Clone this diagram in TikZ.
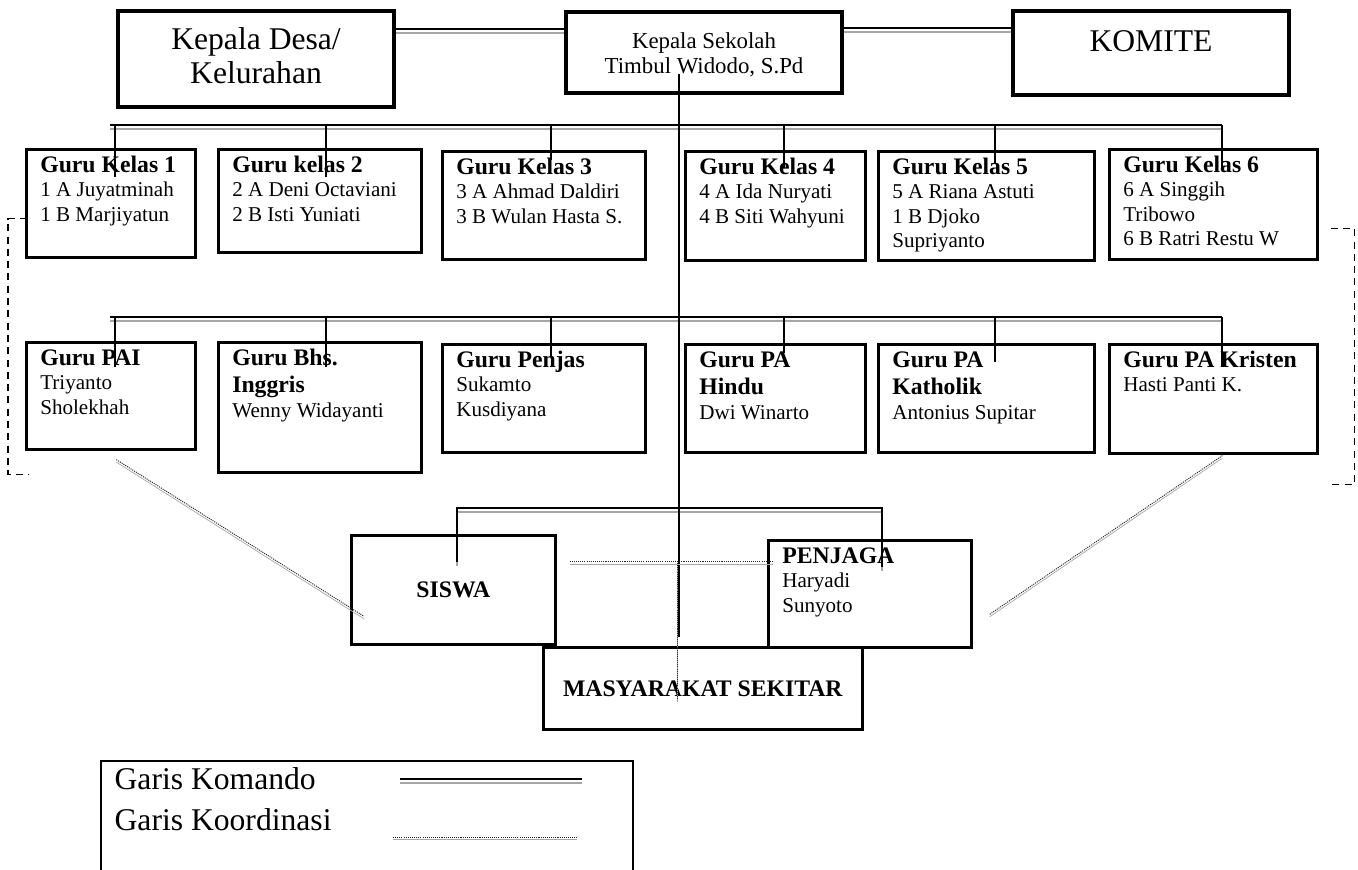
\documentclass[tikz,border=0pt]{standalone}
\usepackage{fontspec}
\setmainfont{Liberation Serif}
\usetikzlibrary{calc}

\newlength{\px}\setlength{\px}{0.02cm}
\newcommand{\judul}{\fontsize{13.5}{15.5}\selectfont\bfseries}
\newcommand{\isian}{\fontsize{12}{13.9}\selectfont}
\newcommand{\besar}{\fontsize{18}{19.3}\selectfont}
\newcommand{\sedang}{\fontsize{13}{14.7}\selectfont}
% isi kotak guru: lebar, tinggi, judul, nama
\newcommand{\guru}[4]{\begin{minipage}[t][#2\px][t]{#1\px}\vspace*{4\px}\raggedright\leftskip=14\px
{\judul\strut #3\par}{\isian #4\par}\end{minipage}}
% isi kotak atas: lebar, tinggi, jarak atas, teks
\newcommand{\tengah}[4]{\begin{minipage}[t][#2\px][t]{#1\px}\vspace*{#3\px}\centering #4\par\end{minipage}}

\begin{document}
\begin{tikzpicture}[x=0.02cm,y=-0.02cm,
kotak/.style={draw,rectangle,inner sep=0pt,anchor=north west,line width=1.5pt},
kotaktebal/.style={kotak,line width=2.3pt},
komando/.style={draw,line width=1pt,preaction={draw=black!35,line width=1.2pt,transform canvas={yshift=-2.3pt}}},
koord/.style={draw=black!85,line width=0.55pt,dash pattern=on 0.6pt off 0.6pt,preaction={draw=black!35,transform canvas={yshift=-1.4pt}}},
tegak/.style={line width=1pt},
putus/.style={line width=0.8pt,dash pattern=on 4pt off 3pt}]
\useasboundingbox (0,0) rectangle (1358,869);
\clip (0,0) rectangle (1358,869);

% pimpinan
\node[kotaktebal] (desa) at (116,9) {\tengah{276}{96}{15}{\besar\strut Kepala Desa/\\Kelurahan}};
\node[kotaktebal] (sekolah) at (564,10) {\tengah{276}{81}{18}{\sedang\strut Kepala Sekolah\\Timbul Widodo, S.Pd}};
\node[kotaktebal] (komite) at (1011,9) {\tengah{276}{84}{17}{\besar\strut KOMITE}};

% guru kelas
\node[kotak] (gk1) at (25,148) {\guru{169}{108}{Guru Kelas 1}{1 A Juyatminah\\1 B Marjiyatun}};
\node[kotak] (gk2) at (217,148) {\guru{203}{103}{Guru kelas 2}{2 A Deni Octaviani\\2 B Isti Yuniati}};
\node[kotak] (gk3) at (441,150) {\guru{203}{108}{Guru Kelas 3}{3 A Ahmad Daldiri\\3 B Wulan Hasta S.}};
\node[kotak] (gk4) at (684,150) {\guru{180}{109}{Guru Kelas 4}{4 A Ida Nuryati\\4 B Siti Wahyuni}};
\node[kotak] (gk5) at (877,150) {\guru{216}{109}{Guru Kelas 5}{5 A Riana Astuti\\1 B Djoko\\Supriyanto}};
\node[kotak] (gk6) at (1108,148) {\guru{208}{110}{Guru Kelas 6}{6 A Singgih\\Tribowo\\6 B Ratri Restu W}};

% guru mapel
\node[kotak] (pai) at (25,341) {\guru{169}{107}{Guru PAI}{Triyanto\\Sholekhah}};
\node[kotak] (bhs) at (217,341) {\guru{203}{130}{Guru Bhs.\\Inggris}{Wenny Widayanti}};
\node[kotak] (penjas) at (441,343) {\guru{203}{108}{Guru Penjas}{Sukamto\\Kusdiyana}};
\node[kotak] (hindu) at (684,343) {\guru{180}{108}{Guru PA\\Hindu}{Dwi Winarto}};
\node[kotak] (katholik) at (877,343) {\guru{216}{108}{Guru PA\\Katholik}{Antonius Supitar}};
\node[kotak] (kristen) at (1108,343) {\guru{208}{109}{Guru PA Kristen}{Hasti Panti K.}};

% bawah
\node[kotak,minimum width=204\px,minimum height=109\px,font=\judul] (siswa) at (350,534) {SISWA};
\node[kotak] (penjaga) at (767,539) {\guru{203}{107}{PENJAGA}{Haryadi\\Sunyoto}};
\node[kotak,minimum width=319\px,minimum height=82\px,font=\judul] (masyarakat) at (542,646) {MASYARAKAT SEKITAR};

% garis komando
\draw[komando] (desa.12.7) -- (desa.12.7 -| sekolah.west);
\draw[komando] (sekolah.10.9) -- (sekolah.10.9 -| komite.west);
\draw[komando] ($(gk1.north)+(-0.5,-23)$) -- ($(gk6.north)+(9,-23)$);
\draw[komando] ($(pai.north)+(-0.5,-24)$) -- ($(kristen.north)+(9,-26)$);
\draw[komando] ($(siswa.north)+(4,28)$) |- ($(penjaga.north)+(12.5,-31)$) -- ++(0,59);
\foreach \k/\dx/\dy/\p in {gk1/4.5/-23/52,gk2/6.5/-23/52,gk3/7.5/-25/35,gk4/9/-25/43,gk5/9/-25/38,gk6/9/-23/43,
  pai/4.5/-24/50,bhs/6.5/-24/50,penjas/7.5/-26/40,hindu/9/-26/36,katholik/9/-26/45,kristen/9/-26/50}
  \draw[tegak] ($(\k.north)+(\dx,\dy)$) -- ++(0,\p);
\coordinate (pusat) at ($(sekolah.center)+(-25,21.5)$);
\draw[tegak,shorten >=9\px] (pusat) -- (pusat |- masyarakat.north);

% garis koordinasi
\draw[koord] ($(siswa.east)+(13,-28)$) -- ($(penjaga.west)+(6,-32)$);
\draw[koord] ($(masyarakat.north)+(-25.5,-85)$) -- ++(0,139);
\draw[koord] ($(pai.south)+(5.5,9)$) -- ($(siswa.west)+(14,26.5)$);
\draw[koord] ($(kristen.south)+(9,1)$) -- ($(penjaga.east)+(17,20.5)$);

% kurung putus-putus
\draw[putus] ($(gk1.south west)+(2,-40)$) -- ++(-19,0) -- ++(0,256) -- ++(21,0);
\draw[putus] ($(gk6.south east)+(12,-32)$) -- ++(24,0) -- ++(0,256) -- ++(-26,0);

% keterangan
\node[kotak,line width=1.2pt] (legenda) at (100,760) {\begin{minipage}[t][130\px][t]{532\px}\raggedright\leftskip=13.6\px
\fontsize{18}{23.2}\selectfont\strut Garis Komando\\Garis Koordinasi\par\end{minipage}};
\draw[komando] ($(legenda.north west)+(300,19)$) -- ++(182,0);
\draw[koord] ($(legenda.north west)+(293,77)$) -- ++(184,0);
\end{tikzpicture}
\end{document}
